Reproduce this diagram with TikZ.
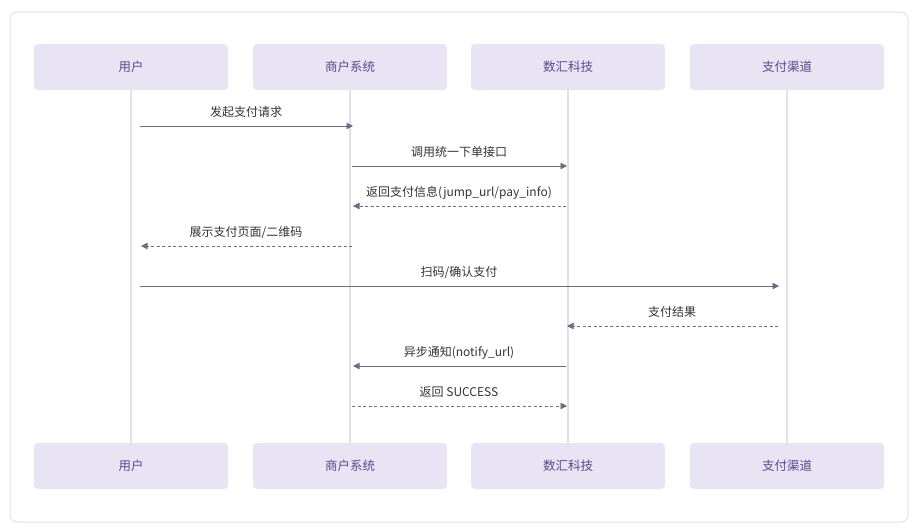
\documentclass[tikz,border=0pt]{standalone}
\usepackage{fontspec}
\setmainfont{Noto Sans CJK SC}
\usetikzlibrary{arrows.meta}
\definecolor{frameC}{HTML}{E3E3E8}
\definecolor{boxF}{HTML}{E8E4F4}
\definecolor{boxT}{HTML}{5A4A8C}
\definecolor{lifeC}{HTML}{E0E0E6}
\definecolor{msgC}{HTML}{667080}
\definecolor{lblC}{HTML}{333333}
\tikzset{
  actor/.style={fill=boxF, rounded corners=4pt, minimum width=194pt, minimum height=46pt, inner sep=0pt, text=boxT, font=\fontsize{12.5pt}{14pt}\selectfont},
  life/.style={draw=lifeC, line width=1.8pt},
  msg/.style={draw=msgC, line width=0.9pt, -{Triangle[length=6.5pt,width=6.5pt]}},
  ret/.style={msg, dash pattern=on 3pt off 2.5pt},
  lbl/.style={text=lblC, font=\fontsize{12pt}{13pt}\selectfont, inner sep=0pt, anchor=base}
}
\begin{document}
\begin{tikzpicture}[x=1pt,y=-1pt]
\useasboundingbox (0,0) rectangle (924,530);
\fill[white] (0,0) rectangle (924,530);
\draw[frameC, line width=1pt, rounded corners=7pt] (10,12) rectangle (908,522);
% lifelines
\foreach \x/\n in {131/a,350/b,568/c,787/d}{
  \coordinate (t\n) at (\x,90);
  \coordinate (b\n) at (\x,443);
}
\draw[life] (ta) -- (ba);
\draw[life] (tb) -- (bb);
\draw[life] (tc) -- (bc);
\draw[life] (td) -- (bd);
% actors top
\node[actor] (ua) at (131,67) {用户};
\node[actor] (ub) at (350,67) {商户系统};
\node[actor] (uc) at (568,67) {数汇科技};
\node[actor] (ud) at (787,67) {支付渠道};
% actors bottom
\node[actor] (la) at (131,466) {用户};
\node[actor] (lb) at (350,466) {商户系统};
\node[actor] (lc) at (568,466) {数汇科技};
\node[actor] (ld) at (787,466) {支付渠道};
% message endpoints
\coordinate (m1s) at (140,126); \coordinate (m1e) at (353,126);
\coordinate (m2s) at (352,166); \coordinate (m2e) at (567,166);
\coordinate (m3s) at (566,206); \coordinate (m3e) at (353,206);
\coordinate (m4s) at (352,246); \coordinate (m4e) at (141,246);
\coordinate (m5s) at (140,286); \coordinate (m5e) at (779,286);
\coordinate (m6s) at (778,326); \coordinate (m6e) at (567,326);
\coordinate (m7s) at (566,366); \coordinate (m7e) at (353,366);
\coordinate (m8s) at (352,406); \coordinate (m8e) at (567,406);
\draw[msg] (m1s) -- (m1e);
\draw[msg] (m2s) -- (m2e);
\draw[ret] (m3s) -- (m3e);
\draw[ret] (m4s) -- (m4e);
\draw[msg] (m5s) -- (m5e);
\draw[ret] (m6s) -- (m6e);
\draw[msg] (m7s) -- (m7e);
\draw[ret] (m8s) -- (m8e);
% labels
\node[lbl] (l1) at (246,116) {发起支付请求};
\node[lbl] (l2) at (459,156) {调用统一下单接口};
\node[lbl] (l3) at (459,196) {返回支付信息(jump\_url/pay\_info)};
\node[lbl] (l4) at (246,236) {展示支付页面/二维码};
\node[lbl] (l5) at (459,276) {扫码/确认支付};
\node[lbl] (l6) at (672,316) {支付结果};
\node[lbl] (l7) at (459,356) {异步通知(notify\_url)};
\node[lbl] (l8) at (459,396) {返回 SUCCESS};
\end{tikzpicture}
\end{document}
